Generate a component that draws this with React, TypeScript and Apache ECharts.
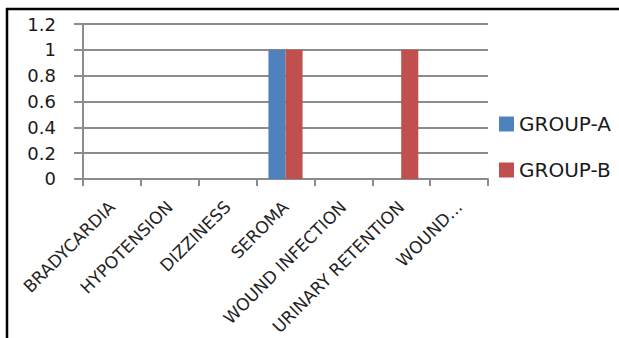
import React, { useEffect, useRef } from "react";
import * as echarts from "echarts";

const categories = ["BRADYCARDIA", "HYPOTENSION", "DIZZINESS", "SEROMA", "WOUND INFECTION", "URINARY RETENTION", "WOUND..."];
const groupA = [0, 0, 0, 1, 0, 0, 0];
const groupB = [0, 0, 0, 1, 0, 1, 0];
const seriesNames = ["GROUP-A", "GROUP-B"];

const FONT = "DejaVu Sans";

export default function App() {
  const ref = useRef<HTMLDivElement>(null);
  useEffect(() => {
    if (!ref.current) return;
    const chart = echarts.init(ref.current, undefined, { renderer: "svg" });
    chart.setOption({
      animation: false,
      grid: { left: 83, top: 24, width: 405, height: 157, containLabel: false },
      legend: {
        orient: "vertical",
        left: 494,
        top: 109,
        itemWidth: 15,
        itemHeight: 15,
        itemGap: 26,
        icon: "rect",
        textStyle: { fontFamily: FONT, fontSize: 20, color: "#1a1a1a" },
        data: seriesNames,
      },
      xAxis: {
        type: "category",
        data: categories,
        axisLine: { lineStyle: { color: "#8c8c8c", width: 2 } },
        axisTick: { show: true, length: 7, lineStyle: { color: "#8c8c8c", width: 2 } },
        axisLabel: {
          interval: 0,
          rotate: 45,
          margin: 25,
          fontFamily: FONT,
          fontSize: 17,
          color: "#222",
        },
      },
      yAxis: {
        type: "value",
        min: 0,
        max: 1.2,
        interval: 0.2,
        axisLine: { show: true, lineStyle: { color: "#8c8c8c", width: 2 } },
        axisTick: { show: true, length: 9, lineStyle: { color: "#8c8c8c", width: 2 } },
        splitLine: { lineStyle: { color: "#8c8c8c", width: 2 } },
        axisLabel: { margin: 27, fontFamily: FONT, fontSize: 18, color: "#1a1a1a" },
      },
      series: [
        {
          name: seriesNames[0],
          type: "bar",
          data: groupA,
          barGap: "0%",
          barCategoryGap: "41%",
          itemStyle: { color: "#4f81bd" },
        },
        {
          name: seriesNames[1],
          type: "bar",
          data: groupB,
          barGap: "0%",
          barCategoryGap: "41%",
          itemStyle: { color: "#c0504d" },
        },
      ],
      graphic: [
        { type: "line", shape: { x1: 6, y1: 9, x2: 619, y2: 9 }, style: { stroke: "#000", lineWidth: 2.5 } },
        { type: "line", shape: { x1: 7, y1: 8, x2: 7, y2: 338 }, style: { stroke: "#000", lineWidth: 2.5 } },
      ],
    });
    return () => chart.dispose();
  }, []);
  return (
    <div style={{ position: "absolute", left: 0, top: 0, width: 619, height: 338, background: "#fff" }}>
      <div ref={ref} style={{ width: 619, height: 338 }} />
    </div>
  );
}
